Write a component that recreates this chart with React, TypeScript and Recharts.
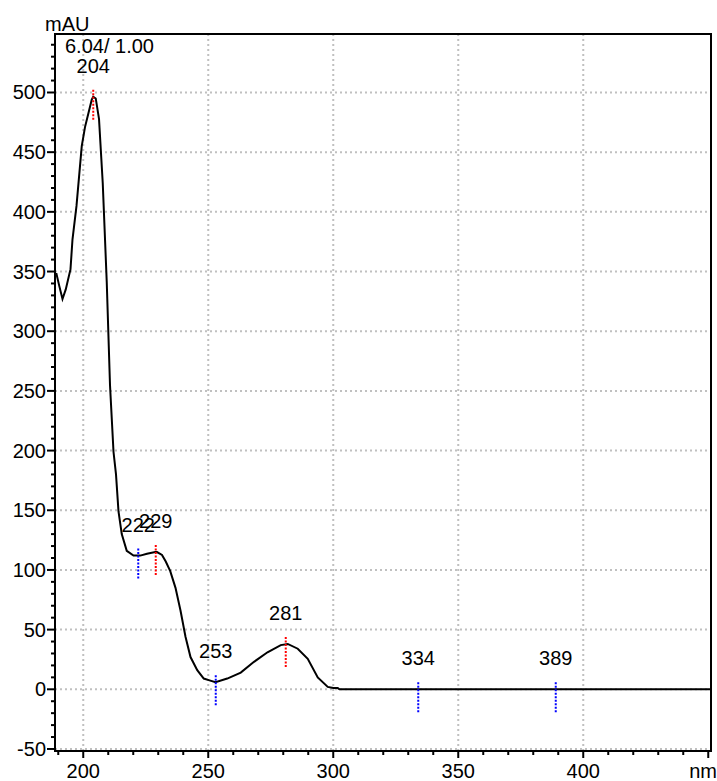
import { CartesianGrid, ComposedChart, Line, ReferenceArea, Scatter, XAxis, YAxis } from "recharts";

// spectrum (nm / mAU)
const wavelengths = [
  188.7, 189.3, 190.4, 191.7, 193, 194.9, 195.7, 197.3, 199.4, 200.7, 203.4, 204, 205, 206.3, 207.8,
  209.4, 210.7, 212.1, 213.1, 214.1, 215.4, 217.4, 220.1, 222, 222.8, 225.5, 228.8, 229.5, 231.5, 233,
  234.8, 236.9, 238.9, 240.9, 242.9, 245.6, 248.2, 250.5, 252.9, 257.6, 263, 268.3, 273.7, 279, 281.8,
  285.8, 289.8, 293.8, 297.8, 300, 301.8, 302.5, 451.1,
];
const absorbance = [
  348, 348, 338, 327, 335, 352, 377, 405, 455, 471, 494, 496.5, 495, 478, 424,
  341, 255, 199, 180, 149, 130, 116, 112, 112, 112, 113.6, 115, 115, 112.5, 107,
  99, 85, 66, 44, 27, 16, 9, 7.5, 6, 9, 14, 23, 31, 37, 38,
  34, 25.6, 10, 2, 1, 1, 0, 0,
];

const peakNm = [204, 222, 229, 253, 281, 334, 389];
const peakMau = [496.5, 112, 115, 6, 38, 0, 0];
const peakIsMax = [true, false, true, false, true, false, false];

const xTicks = [190, 200, 210, 220, 230, 240, 250, 260, 270, 280, 290, 300, 310, 320, 330, 340, 350, 360, 370, 380, 390, 400, 410, 420, 430, 440, 450];
const yTicks = [-50, -40, -30, -20, -10, 0, 10, 20, 30, 40, 50, 60, 70, 80, 90, 100, 110, 120, 130, 140, 150, 160, 170, 180, 190, 200, 210, 220, 230, 240, 250, 260, 270, 280, 290, 300, 310, 320, 330, 340, 350, 360, 370, 380, 390, 400, 410, 420, 430, 440, 450, 460, 470, 480, 490, 500, 510, 520, 530, 540];
const gridX = [200, 250, 300, 350, 400];
const gridY = [-50, 0, 50, 100, 150, 200, 250, 300, 350, 400, 450, 500];

const X_DOMAIN = [188.7, 451.1];
const Y_DOMAIN = [-51.7, 549];

const FONT = "'Liberation Sans', Arial, sans-serif";

const spectrum = wavelengths.map((nm, i) => ({ nm, mau: absorbance[i] }));
const peaks = peakNm.map((nm, i) => ({ nm, mau: peakMau[i], max: peakIsMax[i] }));

const YTick = ({ x, y, payload }: any) => {
  const major = payload.value % 50 === 0;
  return (
    <g>
      <line x1={ x - (major ? 8 : 4) } x2={ x } y1={ y } y2={ y } stroke="#000" strokeWidth={ 2 }/>
      { major && payload.value <= 500 &&
        <text x={ x - 9 } y={ y + 7 } textAnchor="end" fontSize={ 20 } fontFamily={ FONT } fill="#000">{ payload.value }</text> }
    </g>
  );
};

const XTick = ({ x, y, payload }: any) => {
  const major = payload.value % 50 === 0;
  return (
    <g>
      <line x1={ x } x2={ x } y1={ y } y2={ y + (major ? 7 : 4) } stroke="#000" strokeWidth={ 2 }/>
      { major && payload.value < 450 &&
        <text x={ x } y={ y + 27 } textAnchor="middle" fontSize={ 20 } fontFamily={ FONT } fill="#000">{ payload.value }</text> }
    </g>
  );
};

const PeakMark = ({ cx, cy, payload }: any) => (
  <g>
    <line x1={ cx } x2={ cx } y1={ cy - 7 } y2={ cy + 23 } stroke={ payload.max ? "#ff0000" : "#0000ff" }
          strokeWidth={ 2 } strokeDasharray="2 1.5"/>
    <text x={ cx } y={ cy - 24 } textAnchor="middle" fontSize={ 20 } fontFamily={ FONT } fill="#000">{ payload.nm }</text>
  </g>
);

const App = () => (
  <div style={ { position: "absolute", left: 0, top: 0, width: 717, height: 781, background: "#fff" } }>
    <ComposedChart width={ 717 } height={ 781 } margin={ { top: 34, right: 6, bottom: 0, left: 0 } }>
      <CartesianGrid stroke="#c0c0c0" strokeWidth={ 2 } strokeDasharray="2 3"
                     horizontalValues={ gridY } verticalValues={ gridX }/>
      <XAxis type="number" dataKey="nm" domain={ X_DOMAIN } ticks={ xTicks } allowDataOverflow
             height={ 30 } tickSize={ 0 } tickMargin={ 0 } tick={ <XTick/> } interval={ 0 }
             axisLine={ { stroke: "#000", strokeWidth: 2 } } tickLine={ false }/>
      <YAxis type="number" dataKey="mau" domain={ Y_DOMAIN } ticks={ yTicks } allowDataOverflow
             width={ 55 } tickSize={ 0 } tickMargin={ 0 } tick={ <YTick/> } interval={ 0 }
             axisLine={ { stroke: "#000", strokeWidth: 2 } } tickLine={ false }/>
      <ReferenceArea x1={ X_DOMAIN[0] } x2={ X_DOMAIN[1] } y1={ Y_DOMAIN[0] } y2={ Y_DOMAIN[1] }
                     fill="none" stroke="#000" strokeWidth={ 2 } fillOpacity={ 0 }/>
      <Line data={ spectrum } dataKey="mau" type="linear" stroke="#000" strokeWidth={ 2 } dot={ false }
            isAnimationActive={ false }/>
      <Scatter data={ peaks } dataKey="mau" shape={ <PeakMark/> } isAnimationActive={ false }/>
    </ComposedChart>
    <svg width={ 717 } height={ 781 } style={ { position: "absolute", left: 0, top: 0, pointerEvents: "none" } }>
      <text x={ 45 } y={ 31 } fontSize={ 20 } fontFamily={ FONT }>mAU</text>
      <text x={ 65 } y={ 53 } fontSize={ 20 } fontFamily={ FONT }>6.04/ 1.00</text>
      <text x={ 717 } y={ 778 } textAnchor="end" fontSize={ 20 } fontFamily={ FONT }>nm</text>
    </svg>
  </div>
);

export default App;
